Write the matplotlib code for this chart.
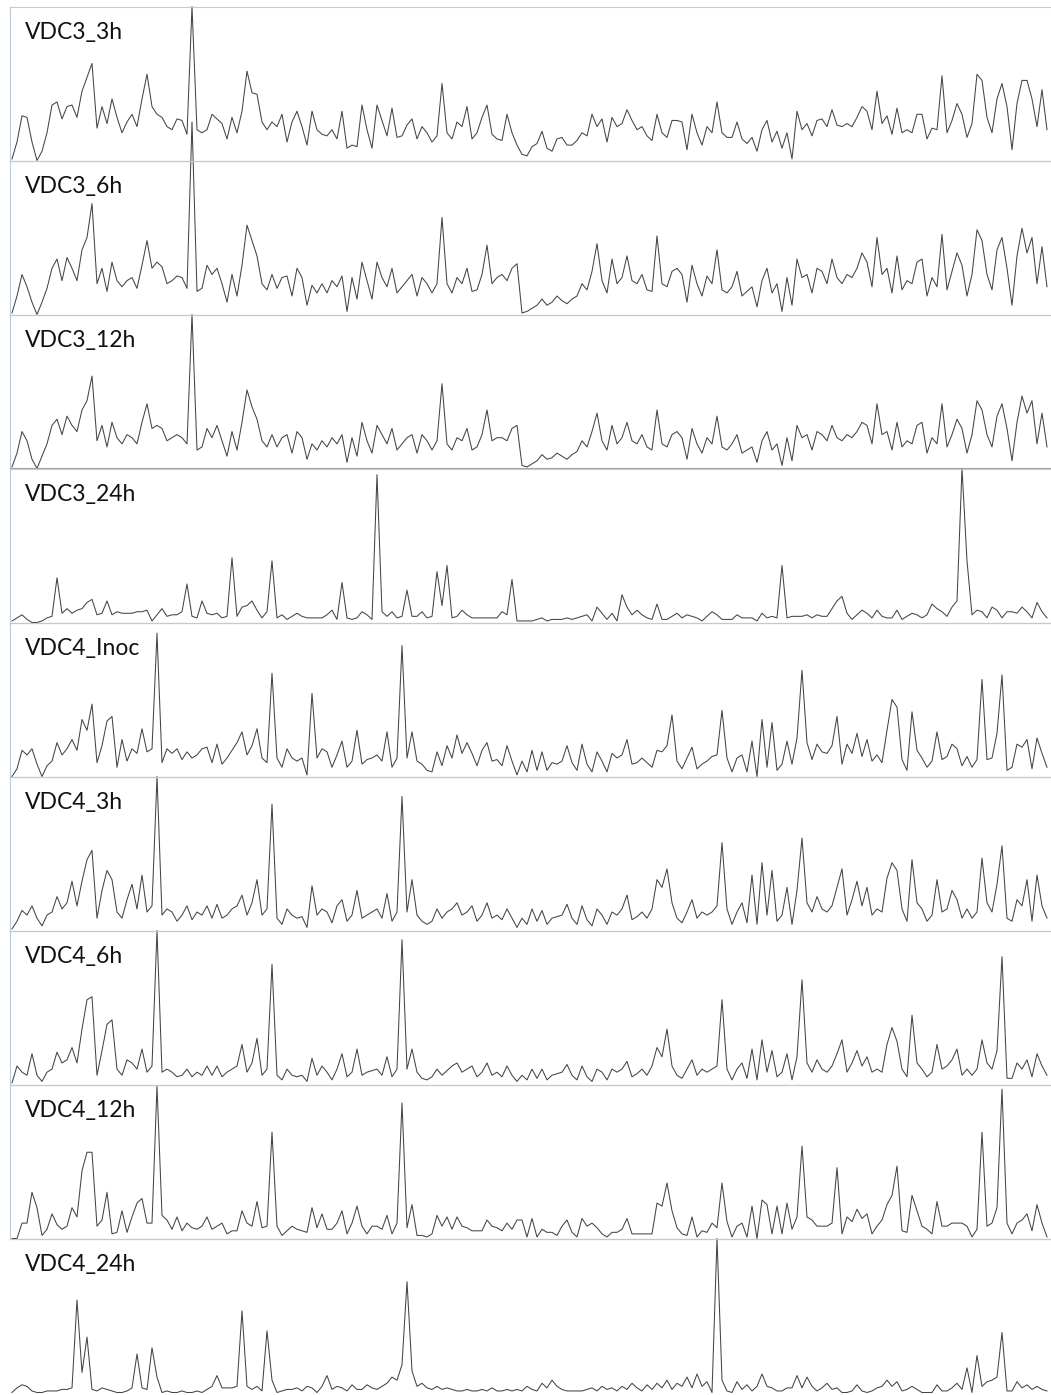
import numpy as np
import matplotlib.pyplot as plt

labels = ['VDC3_3h', 'VDC3_6h', 'VDC3_12h', 'VDC3_24h', 'VDC4_Inoc',
          'VDC4_3h', 'VDC4_6h', 'VDC4_12h', 'VDC4_24h']

# relative intensity per sample, 0 = baseline, 100 = panel top
vdc3_3h = [
    1, 12, 29, 28, 12, 0, 6, 18, 36, 38,
    27, 35, 36, 28, 45, 54, 63, 21, 35, 24,
    40, 28, 18, 25, 30, 22, 40, 56, 35, 30,
    28, 22, 20, 27, 26, 17, 100, 20, 18, 20,
    30, 27, 24, 14, 28, 18, 32, 58, 44, 43,
    25, 20, 25, 22, 30, 12, 25, 32, 22, 10,
    32, 20, 17, 16, 20, 14, 32, 8, 10, 9,
    36, 20, 8, 36, 26, 16, 34, 15, 16, 23,
    27, 14, 22, 18, 12, 16, 50, 18, 14, 25,
    22, 35, 14, 18, 28, 36, 17, 14, 13, 30,
    18, 10, 4, 3, 9, 11, 19, 8, 6, 14,
    15, 10, 10, 13, 18, 16, 30, 22, 27, 12,
    28, 22, 24, 33, 26, 20, 22, 16, 13, 30,
    18, 15, 26, 26, 25, 7, 30, 18, 10, 22,
    18, 38, 18, 15, 15, 25, 14, 11, 15, 6,
    20, 26, 12, 19, 8, 18, 1, 32, 20, 24,
    16, 26, 27, 22, 33, 23, 22, 24, 22, 28,
    35, 32, 20, 45, 24, 29, 17, 34, 18, 20,
    18, 30, 30, 14, 21, 20, 55, 18, 26, 37,
    30, 15, 24, 56, 52, 28, 18, 40, 50, 35,
    7, 37, 52, 52, 40, 22, 46, 20]

vdc3_6h = [
    1, 12, 26, 18, 8, 0, 8, 17, 30, 36,
    22, 37, 30, 22, 42, 50, 72, 20, 30, 15,
    34, 22, 18, 22, 24, 17, 32, 48, 30, 34,
    31, 20, 22, 25, 24, 17, 125, 15, 17, 32,
    26, 30, 20, 8, 26, 12, 32, 58, 48, 38,
    20, 16, 26, 17, 24, 25, 12, 30, 24, 6,
    19, 14, 20, 14, 22, 18, 25, 2, 24, 10,
    34, 22, 10, 34, 24, 18, 30, 14, 18, 22,
    26, 12, 24, 20, 14, 20, 63, 20, 14, 24,
    20, 30, 15, 16, 26, 45, 20, 24, 26, 22,
    30, 33, 1, 2, 4, 6, 10, 6, 8, 12,
    9, 7, 10, 12, 20, 16, 28, 46, 22, 14,
    36, 20, 24, 38, 22, 20, 26, 16, 15, 51,
    20, 18, 28, 30, 26, 8, 32, 20, 12, 25,
    20, 42, 16, 14, 18, 28, 12, 15, 18, 5,
    22, 30, 14, 20, 2, 24, 6, 36, 24, 26,
    14, 30, 28, 20, 36, 24, 20, 26, 24, 30,
    40, 34, 18, 50, 26, 30, 14, 38, 16, 22,
    20, 34, 36, 12, 24, 18, 52, 16, 28, 40,
    32, 12, 26, 55, 48, 26, 16, 42, 50, 30,
    6, 38, 56, 40, 50, 20, 44, 18]

vdc3_12h = [
    1, 10, 24, 18, 6, 0, 8, 16, 28, 32,
    22, 34, 28, 24, 38, 44, 60, 18, 28, 14,
    30, 20, 16, 22, 20, 16, 30, 42, 26, 28,
    26, 18, 20, 22, 20, 16, 100, 12, 14, 26,
    20, 28, 18, 8, 24, 12, 30, 51, 40, 32,
    18, 14, 22, 14, 20, 22, 10, 24, 20, 6,
    16, 12, 18, 14, 20, 16, 22, 4, 20, 8,
    30, 18, 10, 28, 22, 16, 26, 12, 16, 20,
    22, 10, 22, 18, 12, 18, 55, 16, 12, 20,
    18, 26, 12, 14, 22, 38, 18, 20, 20, 18,
    26, 28, 2, 1, 3, 5, 9, 6, 7, 10,
    8, 6, 9, 11, 18, 14, 24, 36, 18, 12,
    28, 16, 20, 30, 18, 16, 22, 14, 12, 38,
    16, 14, 22, 24, 20, 6, 26, 16, 10, 20,
    16, 34, 14, 12, 16, 22, 10, 12, 14, 4,
    18, 24, 12, 16, 2, 20, 5, 28, 20, 22,
    12, 24, 22, 18, 28, 20, 18, 22, 20, 24,
    30, 28, 16, 42, 22, 24, 12, 30, 14, 18,
    16, 28, 30, 10, 20, 16, 42, 14, 22, 32,
    26, 10, 22, 44, 38, 22, 14, 34, 42, 26,
    5, 30, 47, 36, 44, 16, 36, 14]

vdc3_24h = [
    1, 3, 5, 2, 0, 0, 1, 3, 4, 29,
    6, 9, 6, 8, 9, 13, 15, 5, 6, 14,
    5, 7, 6, 6, 6, 7, 7, 8, 1, 5,
    9, 4, 5, 5, 7, 25, 4, 3, 14, 6,
    5, 6, 3, 4, 42, 4, 10, 11, 14, 8,
    3, 7, 40, 3, 5, 2, 4, 6, 4, 3,
    3, 3, 3, 5, 8, 2, 26, 3, 2, 3,
    7, 5, 2, 96, 7, 4, 7, 3, 4, 21,
    4, 4, 7, 3, 4, 33, 11, 37, 3, 4,
    8, 5, 3, 3, 3, 3, 3, 3, 7, 5,
    28, 1, 1, 1, 1, 2, 3, 1, 2, 2,
    2, 3, 2, 3, 4, 5, 1, 10, 6, 2,
    6, 1, 18, 10, 5, 8, 5, 3, 2, 12,
    2, 2, 4, 6, 3, 5, 4, 3, 1, 4,
    7, 5, 2, 2, 2, 5, 3, 3, 3, 1,
    6, 3, 4, 3, 37, 3, 4, 4, 4, 5,
    3, 5, 4, 4, 9, 14, 17, 6, 2, 5,
    8, 6, 3, 8, 4, 3, 3, 8, 2, 4,
    6, 5, 3, 5, 12, 9, 7, 4, 10, 14,
    100, 40, 5, 8, 7, 3, 10, 8, 3, 7,
    7, 6, 10, 7, 3, 13, 7, 3]

vdc4_inoc = [
    0, 5, 17, 14, 18, 8, 0, 7, 10, 22,
    14, 18, 24, 17, 37, 30, 47, 9, 20, 36,
    39, 6, 24, 10, 18, 15, 31, 16, 18, 93,
    9, 18, 15, 18, 11, 16, 12, 14, 18, 19,
    9, 21, 8, 12, 17, 22, 29, 14, 20, 31,
    12, 9, 67, 12, 6, 18, 12, 10, 12, 1,
    54, 12, 18, 16, 6, 14, 23, 6, 10, 30,
    8, 11, 12, 14, 10, 29, 6, 12, 85, 12,
    29, 10, 8, 4, 3, 16, 7, 20, 12, 27,
    15, 22, 15, 7, 17, 22, 10, 11, 7, 20,
    10, 1, 10, 3, 17, 4, 16, 4, 9, 8,
    10, 20, 9, 4, 21, 8, 3, 16, 10, 3,
    15, 12, 14, 24, 8, 9, 12, 9, 6, 17,
    16, 20, 40, 10, 5, 12, 19, 5, 8, 10,
    13, 14, 43, 12, 3, 12, 14, 3, 23, 0,
    37, 6, 35, 4, 8, 23, 8, 25, 69, 22,
    11, 21, 16, 15, 20, 39, 8, 21, 15, 28,
    13, 24, 10, 14, 9, 30, 50, 45, 11, 4,
    42, 17, 12, 6, 10, 29, 11, 13, 21, 18,
    7, 13, 6, 11, 63, 11, 12, 28, 66, 4,
    6, 21, 19, 24, 5, 25, 15, 6]

vdc4_3h = [
    1, 6, 13, 10, 16, 8, 3, 10, 12, 22,
    14, 18, 32, 16, 32, 46, 52, 8, 26, 39,
    33, 12, 8, 20, 30, 14, 36, 12, 16, 100,
    10, 14, 12, 6, 10, 16, 7, 12, 10, 16,
    8, 17, 8, 10, 14, 16, 23, 10, 18, 33,
    10, 14, 82, 8, 4, 14, 10, 8, 9, 2,
    29, 10, 14, 12, 5, 16, 20, 6, 10, 26,
    8, 10, 12, 14, 8, 24, 6, 12, 87, 12,
    33, 10, 6, 4, 6, 14, 8, 12, 14, 18,
    10, 12, 16, 6, 10, 18, 8, 10, 7, 14,
    8, 2, 8, 4, 14, 6, 13, 4, 8, 9,
    10, 17, 8, 4, 16, 7, 3, 14, 10, 4,
    12, 10, 14, 23, 7, 9, 12, 8, 14, 33,
    28, 40, 18, 8, 5, 12, 20, 8, 12, 10,
    12, 16, 57, 14, 4, 12, 18, 5, 36, 4,
    44, 10, 39, 6, 10, 28, 4, 26, 60, 18,
    12, 22, 14, 12, 16, 28, 40, 10, 20, 32,
    16, 28, 10, 14, 12, 34, 44, 39, 14, 6,
    46, 18, 14, 6, 10, 33, 12, 14, 26, 20,
    8, 14, 8, 12, 47, 18, 12, 30, 55, 8,
    6, 20, 16, 33, 6, 36, 16, 8]

vdc4_6h = [
    1, 12, 8, 6, 20, 6, 2, 8, 10, 21,
    14, 16, 24, 14, 36, 55, 57, 6, 22, 39,
    42, 10, 6, 16, 14, 10, 23, 8, 12, 100,
    8, 10, 8, 5, 6, 10, 5, 8, 6, 12,
    6, 12, 5, 8, 10, 12, 26, 8, 14, 30,
    6, 10, 78, 6, 3, 10, 6, 5, 6, 2,
    17, 6, 12, 8, 3, 10, 20, 5, 8, 23,
    6, 8, 9, 10, 6, 18, 5, 10, 94, 10,
    23, 8, 4, 3, 5, 10, 6, 9, 12, 14,
    8, 10, 12, 5, 8, 14, 6, 8, 5, 12,
    6, 2, 6, 3, 10, 4, 10, 3, 6, 7,
    8, 13, 6, 3, 12, 5, 2, 10, 8, 3,
    10, 8, 10, 15, 5, 7, 10, 6, 12, 24,
    18, 36, 12, 6, 4, 10, 16, 6, 10, 8,
    10, 12, 55, 10, 3, 10, 14, 4, 23, 3,
    29, 8, 22, 5, 8, 20, 3, 18, 68, 14,
    8, 16, 10, 8, 12, 20, 29, 8, 14, 22,
    12, 18, 8, 10, 8, 26, 37, 28, 10, 5,
    45, 14, 10, 5, 8, 26, 10, 12, 16, 23,
    6, 10, 6, 10, 29, 14, 10, 22, 83, 4,
    4, 14, 10, 16, 5, 20, 12, 6]

vdc4_12h = [
    0, 0, 10, 10, 30, 20, 2, 6, 16, 9,
    6, 8, 20, 14, 44, 56, 56, 8, 12, 30,
    3, 4, 18, 4, 14, 23, 26, 10, 10, 99,
    15, 12, 6, 14, 5, 10, 7, 6, 8, 14,
    6, 8, 10, 3, 5, 5, 18, 10, 8, 24,
    7, 8, 69, 8, 2, 5, 8, 6, 5, 4,
    20, 7, 16, 6, 6, 10, 18, 3, 10, 21,
    8, 3, 8, 8, 6, 15, 3, 10, 88, 7,
    22, 2, 2, 1, 3, 15, 8, 14, 6, 14,
    8, 7, 5, 5, 5, 12, 8, 7, 5, 10,
    6, 12, 12, 1, 13, 1, 6, 4, 4, 2,
    8, 12, 4, 1, 13, 8, 10, 7, 3, 1,
    4, 4, 6, 13, 3, 3, 3, 3, 3, 23,
    21, 36, 18, 7, 3, 2, 14, 1, 5, 4,
    10, 7, 36, 11, 1, 8, 10, 1, 21, 0,
    25, 22, 3, 21, 3, 23, 6, 14, 60, 14,
    12, 8, 8, 8, 10, 46, 3, 14, 11, 19,
    13, 16, 3, 8, 12, 22, 28, 47, 5, 4,
    28, 18, 8, 6, 3, 24, 8, 8, 10, 10,
    10, 8, 1, 6, 69, 8, 10, 20, 97, 10,
    3, 10, 12, 16, 5, 22, 10, 1]

vdc4_24h = [
    0, 3, 5, 4, 1, 0, 0, 1, 1, 1,
    2, 2, 3, 60, 13, 36, 2, 1, 3, 2,
    1, 0, 0, 1, 3, 25, 3, 2, 29, 10,
    0, 1, 0, 0, 1, 0, 0, 1, 0, 2,
    4, 11, 3, 3, 3, 4, 53, 4, 2, 4,
    1, 40, 8, 0, 1, 2, 2, 3, 1, 4,
    3, 0, 4, 11, 2, 4, 3, 1, 5, 2,
    2, 5, 3, 2, 4, 6, 10, 8, 18, 72,
    14, 4, 6, 3, 2, 4, 2, 3, 2, 1,
    1, 2, 1, 1, 2, 1, 3, 1, 1, 2,
    1, 2, 1, 4, 2, 1, 6, 3, 8, 4,
    2, 1, 1, 1, 1, 2, 3, 1, 4, 2,
    3, 1, 4, 2, 6, 3, 1, 5, 2, 6,
    3, 8, 2, 6, 4, 10, 3, 12, 4, 7,
    0, 100, 8, 1, 0, 7, 2, 5, 1, 4,
    12, 4, 3, 1, 1, 3, 3, 11, 3, 10,
    4, 1, 3, 6, 2, 3, 0, 0, 1, 5,
    1, 0, 1, 3, 4, 8, 4, 7, 1, 2,
    4, 2, 0, 0, 0, 5, 1, 1, 3, 6,
    2, 16, 0, 24, 4, 7, 8, 10, 39, 1,
    1, 7, 3, 5, 2, 4, 2, 1]

series = [vdc3_3h, vdc3_6h, vdc3_12h, vdc3_24h, vdc4_inoc,
          vdc4_3h, vdc4_6h, vdc4_12h, vdc4_24h]

W, H = 1051, 1395
fig = plt.figure(figsize=(W / 100, H / 100), dpi=100)
fig.patch.set_facecolor('white')

frame = '#bccbdc'
axis_col = '#a3a3a3'

for k, (name, v) in enumerate(zip(labels, series)):
    top = 6.5 + 154 * k
    ax = fig.add_axes([10 / W, 1 - (top + 154) / H, 1041 / W, 154 / H])
    ax.set_facecolor('none')
    ax.plot(np.arange(len(v)), v, color='#444444', lw=0.75, clip_on=False)
    ax.set_xlim(-0.4, 207.8)
    ax.set_ylim(0, 100)
    ax.set_xticks([])
    ax.set_yticks([])
    ax.spines['right'].set_visible(False)
    ax.spines['top'].set_color(frame)
    ax.spines['left'].set_color(frame)
    ax.spines['bottom'].set_color(axis_col)
    for s in ax.spines.values():
        s.set_linewidth(0.8)
    if k == len(labels) - 1:
        ax.spines['left'].set_visible(False)
        ax.spines['bottom'].set_visible(False)
    ax.text(15 / 1041, 1 - 32 / 154, name, transform=ax.transAxes,
            fontsize=16.5, family=['Lato', 'DejaVu Sans'], va='baseline',
            color='#111111')

plt.savefig('out.png', dpi=100, facecolor='white')
